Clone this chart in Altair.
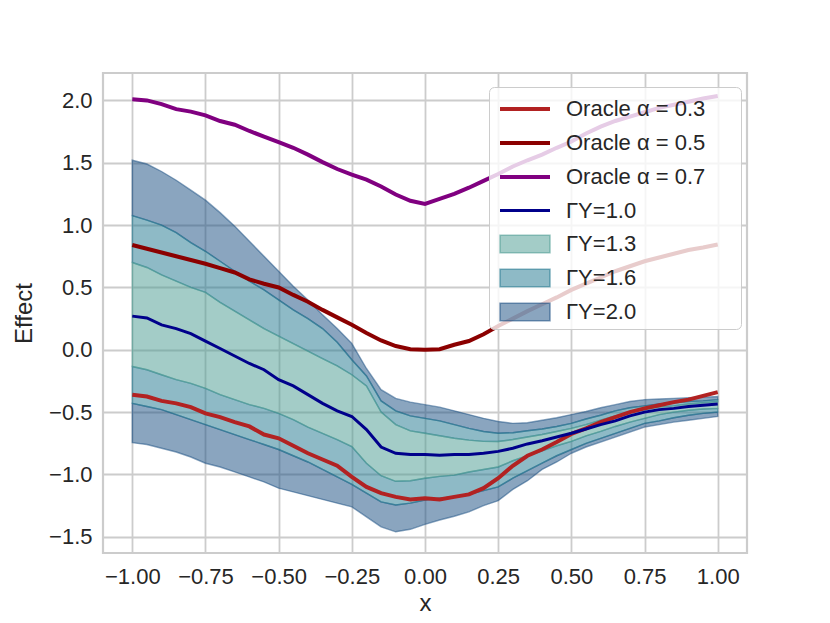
import altair as alt
import pandas as pd

# ---------------- data ----------------
X = [-1.00, -0.95, -0.90, -0.85, -0.80, -0.75, -0.70, -0.65, -0.60, -0.55,
     -0.50, -0.45, -0.40, -0.35, -0.30, -0.25, -0.20, -0.15, -0.10, -0.05,
     0.00, 0.05, 0.10, 0.15, 0.20, 0.25, 0.30, 0.35, 0.40, 0.45,
     0.50, 0.55, 0.60, 0.65, 0.70, 0.75, 0.80, 0.85, 0.90, 0.95, 1.00]

ORACLE_03 = [-0.36, -0.375, -0.41, -0.43, -0.46, -0.51, -0.54, -0.58, -0.615, -0.68,
             -0.71, -0.77, -0.83, -0.88, -0.93, -1.02, -1.10, -1.15, -1.18, -1.20,
             -1.19, -1.20, -1.18, -1.16, -1.11, -1.03, -0.93, -0.85, -0.80, -0.74,
             -0.675, -0.63, -0.58, -0.54, -0.50, -0.47, -0.445, -0.42, -0.40, -0.37, -0.34]
ORACLE_05 = [0.84, 0.81, 0.78, 0.75, 0.72, 0.69, 0.655, 0.62, 0.565, 0.53,
             0.50, 0.44, 0.385, 0.32, 0.26, 0.20, 0.135, 0.075, 0.03, 0.005,
             0.0, 0.005, 0.04, 0.07, 0.125, 0.19, 0.25, 0.31, 0.365, 0.42,
             0.48, 0.53, 0.58, 0.63, 0.67, 0.71, 0.74, 0.77, 0.80, 0.82, 0.845]
ORACLE_07 = [2.01, 2.00, 1.97, 1.93, 1.91, 1.88, 1.835, 1.805, 1.755, 1.71,
             1.665, 1.62, 1.565, 1.505, 1.45, 1.405, 1.365, 1.31, 1.245, 1.195,
             1.17, 1.21, 1.25, 1.30, 1.355, 1.41, 1.47, 1.52, 1.565, 1.62,
             1.67, 1.735, 1.79, 1.835, 1.87, 1.905, 1.94, 1.965, 1.99, 2.015, 2.035]
GAMMA_10 = [0.27, 0.255, 0.20, 0.17, 0.13, 0.07, 0.01, -0.05, -0.11, -0.16,
            -0.24, -0.29, -0.36, -0.43, -0.49, -0.535, -0.64, -0.78, -0.83, -0.84,
            -0.84, -0.845, -0.84, -0.84, -0.83, -0.815, -0.79, -0.755, -0.73, -0.70,
            -0.67, -0.635, -0.60, -0.57, -0.53, -0.50, -0.48, -0.47, -0.455, -0.445, -0.435]

U20 = [1.52, 1.49, 1.43, 1.36, 1.28, 1.20, 1.10, 0.99, 0.87, 0.75,
       0.63, 0.51, 0.40, 0.28, 0.17, 0.05, -0.15, -0.32, -0.39, -0.42,
       -0.44, -0.46, -0.49, -0.52, -0.55, -0.575, -0.59, -0.585, -0.565, -0.545,
       -0.52, -0.495, -0.465, -0.44, -0.415, -0.40, -0.395, -0.39, -0.385, -0.38, -0.375]
L20 = [-0.745, -0.76, -0.79, -0.82, -0.86, -0.91, -0.94, -0.98, -1.02, -1.06,
       -1.11, -1.14, -1.17, -1.20, -1.23, -1.26, -1.34, -1.42, -1.46, -1.44,
       -1.40, -1.365, -1.335, -1.30, -1.25, -1.21, -1.12, -1.05, -0.96, -0.90,
       -0.83, -0.78, -0.74, -0.70, -0.66, -0.62, -0.60, -0.58, -0.565, -0.55, -0.535]
U16 = [1.076, 1.04, 1.00, 0.94, 0.86, 0.79, 0.71, 0.63, 0.55, 0.48,
       0.40, 0.32, 0.25, 0.17, 0.06, -0.08, -0.21, -0.41, -0.49, -0.53,
       -0.55, -0.57, -0.60, -0.63, -0.655, -0.67, -0.665, -0.65, -0.635, -0.615,
       -0.59, -0.555, -0.525, -0.49, -0.465, -0.45, -0.435, -0.425, -0.415, -0.41, -0.40]
L16 = [-0.43, -0.455, -0.48, -0.52, -0.56, -0.60, -0.64, -0.68, -0.72, -0.76,
       -0.80, -0.85, -0.90, -0.96, -1.02, -1.08, -1.15, -1.22, -1.245, -1.23,
       -1.205, -1.19, -1.18, -1.16, -1.13, -1.10, -1.03, -0.97, -0.91, -0.85,
       -0.80, -0.75, -0.71, -0.67, -0.63, -0.59, -0.57, -0.545, -0.525, -0.51, -0.50]
U13 = [0.70, 0.66, 0.60, 0.55, 0.50, 0.46, 0.38, 0.31, 0.24, 0.17,
       0.11, 0.05, -0.01, -0.07, -0.13, -0.20, -0.29, -0.50, -0.60, -0.65,
       -0.67, -0.69, -0.71, -0.725, -0.735, -0.736, -0.72, -0.70, -0.68, -0.655,
       -0.63, -0.60, -0.565, -0.53, -0.50, -0.48, -0.46, -0.45, -0.435, -0.425, -0.415]
L13 = [-0.134, -0.16, -0.20, -0.24, -0.27, -0.31, -0.36, -0.40, -0.44, -0.47,
       -0.51, -0.56, -0.62, -0.67, -0.72, -0.776, -0.91, -1.01, -1.055, -1.05,
       -1.03, -1.015, -1.005, -0.98, -0.96, -0.94, -0.89, -0.85, -0.81, -0.77,
       -0.735, -0.69, -0.655, -0.615, -0.58, -0.55, -0.52, -0.50, -0.485, -0.475, -0.47]

LABELS = ["Oracle α = 0.3", "Oracle α = 0.5", "Oracle α = 0.7",
          "ΓY=1.0", "ΓY=1.3", "ΓY=1.6", "ΓY=2.0"]
X_TICKS = [-1.0, -0.75, -0.5, -0.25, 0.0, 0.25, 0.5, 0.75, 1.0]
Y_TICKS = [-1.5, -1.0, -0.5, 0.0, 0.5, 1.0, 1.5, 2.0]

# ---------------- styling ----------------
FONT = "Liberation Sans"
TEXT = "#262626"
C_03, C_05, C_07, C_10 = "#b22222", "#8b0000", "#800080", "#00008b"
C_B13, C_B16, C_B20 = "#479990", "#1d758d", "#154b7f"

xs = alt.Scale(domain=[-1.1, 1.1], nice=False, zero=False)
ys = alt.Scale(domain=[-1.63, 2.22], nice=False, zero=False)
xax = alt.Axis(values=X_TICKS, format=".2f", title="x", labelPadding=13, titlePadding=4)
yax = alt.Axis(values=Y_TICKS, format=".1f", title="Effect", labelPadding=11, titlePadding=12)


def band_layer(pieces, color):
    rows = []
    for k, (lo, hi) in enumerate(pieces):
        for xv, a, b in zip(X, lo, hi):
            rows.append({"x": xv, "lo": a, "hi": b, "piece": k})
    df = pd.DataFrame(rows)
    return alt.Chart(df).mark_area(
        fill=color, fillOpacity=0.5, stroke=color, strokeOpacity=0.5, strokeWidth=1.4
    ).encode(
        x=alt.X("x:Q", scale=xs, axis=xax),
        y=alt.Y("lo:Q", scale=ys, axis=yax),
        y2="hi:Q",
        detail="piece:N",
    )


def line_layer(vals, color, width):
    df = pd.DataFrame({"x": X, "y": vals})
    return alt.Chart(df).mark_line(color=color, strokeWidth=width).encode(
        x=alt.X("x:Q", scale=xs, axis=xax),
        y=alt.Y("y:Q", scale=ys, axis=yax),
    )


band20 = band_layer([(U16, U20), (L20, L16)], C_B20)
band16 = band_layer([(U13, U16), (L16, L13)], C_B16)
band13 = band_layer([(L13, U13)], C_B13)

LINE = "M-0.733,0H2.6"
RECT = "M-0.733,-0.59H2.6V0.59H-0.733Z"
SHAPES = [LINE, LINE, LINE, LINE, RECT, RECT, RECT]
STROKES = [C_03, C_05, C_07, C_10,
           "rgba(71,153,144,0.55)", "rgba(29,117,141,0.55)", "rgba(21,75,127,0.55)"]
FILLS = ["transparent", "transparent", "transparent", "transparent",
         "rgba(71,153,144,0.5)", "rgba(29,117,141,0.5)", "rgba(21,75,127,0.5)"]
WIDTHS = [4, 4, 4, 3, 1.5, 1.5, 1.5]

# the legend frame in the reference is wider than the label text: invisible
# trailing blanks widen the frame (a zero-width char keeps them from being trimmed)
PAD = "\u00a0" * 5 + "\u200b"
leg = alt.Legend(
    title=None, orient="none", legendX=386, legendY=14,
    labelFont=FONT, labelFontSize=22, labelColor=TEXT, labelLimit=400,
    labelExpr="datum.label + '" + PAD + "'",
    symbolSize=900, symbolOpacity=1, symbolFillColor="transparent",
    labelOffset=38, rowPadding=6, padding=5,
    fillColor="rgba(255,255,255,0.8)", strokeColor="#cccccc", cornerRadius=5,
)

leg_df = pd.DataFrame({"label": LABELS})
legend_layer = alt.Chart(leg_df).mark_point(opacity=1).encode(
    shape=alt.Shape("label:N", scale=alt.Scale(domain=LABELS, range=SHAPES), legend=leg),
    stroke=alt.Stroke("label:N", scale=alt.Scale(domain=LABELS, range=STROKES), legend=leg),
    fill=alt.Fill("label:N", scale=alt.Scale(domain=LABELS, range=FILLS), legend=leg),
    strokeWidth=alt.StrokeWidth("label:N", scale=alt.Scale(type="ordinal", domain=LABELS, range=WIDTHS), legend=leg),
).transform_filter("false")

chart = alt.layer(
    band20, band16, band13,
    line_layer(ORACLE_03, C_03, 4),
    line_layer(ORACLE_05, C_05, 4),
    line_layer(ORACLE_07, C_07, 4),
    line_layer(GAMMA_10, C_10, 3),
    legend_layer,
).properties(
    width=644, height=480,
    padding={"left": 95, "top": 65, "right": 75, "bottom": 62},
    autosize=alt.AutoSizeParams(type="none"),
).configure_view(
    stroke="#cccccc", strokeWidth=2.2
).configure_axis(
    labelFont=FONT, labelFontSize=22, labelColor=TEXT,
    titleFont=FONT, titleFontSize=24, titleFontWeight="normal", titleColor=TEXT,
    ticks=False, domain=False, grid=True, gridColor="#cccccc", gridWidth=1.8,
)

chart.save("out.html", embed_options={"renderer": "svg", "actions": False})
